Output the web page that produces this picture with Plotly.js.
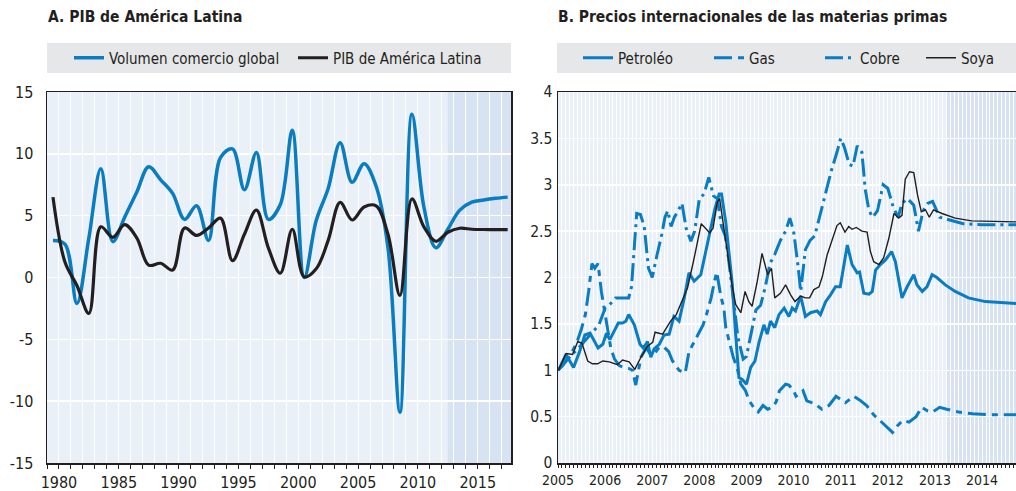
<!DOCTYPE html>
<html><head><meta charset="utf-8">
<script src="https://cdn.plot.ly/plotly-3.0.1.min.js"></script>
<style>html,body{margin:0;padding:0;background:#fff;}#chart{width:1016px;height:491px;}</style>
</head><body><div id="chart"></div>
<script>
// ---------- Panel A: annual growth (%) ----------
const years = [1980,1981,1982,1983,1984,1985,1986,1987,1988,1989,1990,1991,1992,1993,1994,1995,1996,1997,1998,1999,2000,2001,2002,2003,2004,2005,2006,2007,2008,2009,2010,2011,2012,2013,2014,2015,2016,2017,2018];
const tradeVolume = [3.0,2.7,-2.1,3.2,8.8,2.9,4.9,6.9,8.95,7.9,6.8,4.7,5.8,3.0,9.7,10.4,7.1,10.1,4.7,5.9,11.9,0.0,4.6,7.2,10.9,7.7,9.2,7.4,2.4,-10.9,13.2,5.7,2.4,3.9,5.45,6.1,6.27,6.4,6.5];
const gdpLatAm = [6.5,1.25,-0.65,-2.9,4.1,3.25,4.27,3.2,1.0,1.15,0.6,4.0,3.4,4.0,4.8,1.37,3.5,5.45,2.4,0.35,3.9,0.05,0.7,3.0,6.07,4.65,5.7,5.8,3.5,-1.45,6.35,4.1,2.93,3.66,3.98,3.9,3.88,3.87,3.87];
const yTicksA = [-15,-10,-5,0,5,10,15];
const yTickLabelsA = ['-15','-10','-5','0','5','10','15'];
const xTicksA = [1980,1985,1990,1995,2000,2005,2010,2015];

// ---------- Panel B: commodity prices index (2005 = 1) ----------
const petroleoT = [2005.01,2005.17,2005.33,2005.45,2005.57,2005.68,2005.85,2005.95,2006.03,2006.1,2006.28,2006.37,2006.44,2006.5,2006.62,2006.74,2006.81,2006.9,2006.97,2007.04,2007.15,2007.25,2007.36,2007.46,2007.57,2007.68,2007.78,2007.89,2008.03,2008.21,2008.33,2008.42,2008.47,2008.56,2008.63,2008.7,2008.77,2008.84,2008.91,2009.0,2009.09,2009.18,2009.27,2009.37,2009.44,2009.51,2009.6,2009.69,2009.8,2009.9,2009.97,2010.04,2010.15,2010.25,2010.36,2010.5,2010.57,2010.68,2010.78,2010.89,2010.99,2011.14,2011.24,2011.35,2011.4,2011.49,2011.6,2011.67,2011.74,2011.84,2011.95,2012.08,2012.16,2012.3,2012.41,2012.55,2012.62,2012.73,2012.83,2012.94,2013.04,2013.22,2013.43,2013.71,2014.07,2014.72];
const petroleoV = [1.0,1.17,1.03,1.19,1.38,1.4,1.24,1.28,1.4,1.33,1.51,1.51,1.53,1.6,1.49,1.28,1.24,1.31,1.14,1.23,1.28,1.38,1.39,1.58,1.53,1.78,2.05,1.96,2.03,2.46,2.74,2.9,2.9,2.6,2.28,1.92,1.39,0.92,0.9,0.85,1.03,1.1,1.31,1.49,1.39,1.53,1.46,1.6,1.67,1.58,1.67,1.64,1.8,1.58,1.62,1.64,1.6,1.74,1.81,1.9,1.9,2.35,2.14,2.05,2.06,1.83,1.82,1.85,2.08,2.14,2.19,2.28,2.17,1.78,1.9,2.03,1.92,1.85,1.9,2.03,2.0,1.92,1.85,1.78,1.74,1.72];

const gasT = [2005.0,2005.1,2005.25,2005.4,2005.5,2005.58,2005.65,2005.72,2005.78,2005.85,2005.92,2006.0,2006.05,2006.12,2006.2,2006.3,2006.4,2006.5,2006.58,2006.65,2006.76,2006.87,2006.97,2007.06,2007.15,2007.25,2007.35,2007.43,2007.57,2007.7,2007.78,2007.88,2007.98,2008.08,2008.15,2008.25,2008.32,2008.37,2008.45,2008.52,2008.56,2008.66,2008.72,2008.8,2008.88,2008.98,2009.05,2009.15,2009.25,2009.35,2009.45,2009.55,2009.63,2009.7,2009.83,2009.9,2010.0,2010.05,2010.2,2010.28,2010.45,2010.6,2010.75,2010.9,2011.0,2011.1,2011.28,2011.4,2011.55,2011.7,2011.85,2012.0,2012.1,2012.2,2012.32,2012.45,2012.6,2012.72,2012.85,2012.95,2013.1,2013.25,2013.5,2013.8,2014.2,2014.72];
const gasV = [1.0,1.05,1.15,1.3,1.45,1.6,1.85,2.15,2.1,2.15,1.85,1.6,1.45,1.24,1.12,1.05,1.03,1.02,1.0,0.84,1.14,1.24,1.17,1.19,1.25,1.25,1.2,1.1,1.0,0.97,1.2,1.3,1.39,1.49,1.6,1.78,1.96,2.06,1.81,1.67,1.46,1.24,1.14,1.03,0.85,0.78,0.68,0.6,0.55,0.62,0.58,0.6,0.66,0.78,0.85,0.84,0.78,0.72,0.78,0.67,0.64,0.58,0.62,0.72,0.68,0.65,0.72,0.68,0.62,0.52,0.45,0.38,0.33,0.4,0.46,0.44,0.5,0.6,0.56,0.55,0.6,0.58,0.55,0.53,0.52,0.52];

const cobreT = [2005.0,2005.2,2005.4,2005.6,2005.75,2005.87,2006.0,2006.1,2006.22,2006.5,2006.56,2006.62,2006.67,2006.75,2006.83,2006.92,2007.0,2007.1,2007.2,2007.27,2007.33,2007.4,2007.47,2007.55,2007.63,2007.72,2007.82,2007.9,2008.0,2008.1,2008.2,2008.3,2008.38,2008.47,2008.55,2008.62,2008.72,2008.82,2008.93,2009.0,2009.1,2009.2,2009.3,2009.4,2009.5,2009.6,2009.72,2009.83,2009.92,2010.0,2010.1,2010.15,2010.25,2010.35,2010.45,2010.55,2010.68,2010.8,2010.92,2011.0,2011.08,2011.18,2011.26,2011.35,2011.45,2011.52,2011.6,2011.68,2011.78,2011.9,2012.0,2012.12,2012.22,2012.3,2012.42,2012.55,2012.65,2012.75,2012.85,2012.95,2013.1,2013.3,2013.6,2014.0,2014.72];
const cobreV = [1.0,1.12,1.22,1.33,1.42,1.49,1.67,1.71,1.78,1.78,1.9,2.4,2.69,2.68,2.55,2.1,2.0,2.24,2.46,2.65,2.72,2.55,2.65,2.72,2.8,2.53,2.39,2.5,2.85,2.9,3.08,2.88,2.85,2.55,2.45,2.2,1.8,1.35,1.12,1.15,1.4,1.65,1.7,1.9,2.15,2.25,2.4,2.5,2.64,2.5,2.1,1.85,2.3,2.4,2.45,2.65,2.9,3.15,3.35,3.5,3.4,3.22,3.2,3.42,3.35,2.95,2.72,2.65,2.72,3.0,2.96,2.75,2.65,2.8,2.85,2.78,2.5,2.72,2.8,2.82,2.65,2.62,2.58,2.57,2.57];

const soyaT = [2005.01,2005.17,2005.31,2005.42,2005.51,2005.63,2005.73,2005.84,2005.95,2006.09,2006.26,2006.37,2006.51,2006.63,2006.76,2006.9,2007.01,2007.06,2007.22,2007.39,2007.51,2007.63,2007.75,2007.89,2008.04,2008.13,2008.22,2008.29,2008.38,2008.43,2008.5,2008.59,2008.7,2008.77,2008.88,2008.97,2009.05,2009.12,2009.23,2009.33,2009.45,2009.53,2009.6,2009.72,2009.83,2009.94,2010.03,2010.15,2010.25,2010.34,2010.43,2010.54,2010.61,2010.71,2010.82,2010.92,2010.99,2011.09,2011.17,2011.24,2011.33,2011.45,2011.56,2011.63,2011.7,2011.81,2011.91,2012.02,2012.13,2012.23,2012.3,2012.37,2012.46,2012.55,2012.63,2012.71,2012.8,2012.88,2012.97,2013.15,2013.43,2013.78,2014.72];
const soyaV = [1.0,1.18,1.17,1.31,1.29,1.1,1.07,1.07,1.1,1.09,1.06,1.11,1.09,1.01,1.14,1.26,1.3,1.41,1.39,1.53,1.6,1.74,1.89,2.21,2.58,2.53,2.48,2.53,2.81,2.85,2.6,2.28,1.9,1.71,1.62,1.85,1.74,1.69,1.96,2.26,2.03,2.1,1.78,1.83,1.92,1.81,1.74,1.8,1.78,1.78,1.87,1.9,2.01,2.24,2.42,2.56,2.59,2.49,2.55,2.52,2.54,2.5,2.49,2.28,2.17,2.14,2.21,2.42,2.69,2.64,2.67,3.06,3.14,3.13,2.89,2.71,2.73,2.65,2.73,2.69,2.64,2.61,2.6];
const yTicksB = [0,0.5,1,1.5,2,2.5,3,3.5,4];
const xTicksB = [2005,2006,2007,2008,2009,2010,2011,2012,2013,2014];

// ---------- styling ----------
const FONT = "'Liberation Sans Narrow','Arial Narrow','DejaVu Sans Condensed',sans-serif";
const BLUE = '#0a7cc1';
const BLACK = '#231f20';
const W = 1016, TOP = 92, BOT = 463;
const px = v => v / W;
const py = v => (BOT - v) / (BOT - TOP);

const traces = [
  {x: years.map(y => y - 0.5), y: tradeVolume, name: 'Volumen comercio global', type: 'scatter', mode: 'lines',
   line: {color: BLUE, width: 3.5, shape: 'spline', smoothing: 1}, xaxis: 'x', yaxis: 'y', legend: 'legend'},
  {x: years.map(y => y - 0.5), y: gdpLatAm, name: 'PIB de América Latina', type: 'scatter', mode: 'lines',
   line: {color: BLACK, width: 3.2, shape: 'spline', smoothing: 1}, xaxis: 'x', yaxis: 'y', legend: 'legend2'},
  {x: petroleoT, y: petroleoV, name: 'Petroléo', type: 'scatter', mode: 'lines',
   line: {color: BLUE, width: 3}, xaxis: 'x2', yaxis: 'y2', legend: 'legend3'},
  {x: gasT, y: gasV, name: 'Gas', type: 'scatter', mode: 'lines',
   line: {color: BLUE, width: 3, dash: '18px,6px,6px,6px'}, xaxis: 'x2', yaxis: 'y2', legend: 'legend4'},
  {x: cobreT, y: cobreV, name: 'Cobre', type: 'scatter', mode: 'lines',
   line: {color: BLUE, width: 3, dash: '18px,5px,3px,5px'}, xaxis: 'x2', yaxis: 'y2', legend: 'legend5'},
  {x: soyaT, y: soyaV, name: 'Soya', type: 'scatter', mode: 'lines',
   line: {color: BLACK, width: 1.4}, xaxis: 'x2', yaxis: 'y2', legend: 'legend6'}
];

function leg(lineStartPx) {
  return {x: px(lineStartPx), xanchor: 'left', y: py(58), yanchor: 'middle', orientation: 'h',
    bgcolor: 'rgba(0,0,0,0)', borderwidth: 0, font: {family: FONT, size: 15, color: BLACK}};
}

const axisCommon = {showline: true, linecolor: BLACK, linewidth: 1.5, mirror: true, zeroline: false,
  gridcolor: '#ffffff', gridwidth: 1, tickfont: {family: FONT, size: 16, color: BLACK}};

const layout = {
  width: W, height: 491, paper_bgcolor: '#ffffff', plot_bgcolor: '#e9f0f8',
  margin: {l: 0, r: 0, t: TOP, b: 491 - BOT, pad: 0},
  showlegend: true, hovermode: false,
  font: {family: FONT, color: BLACK},
  xaxis: Object.assign({}, axisCommon, {domain: [px(47), px(511)], range: [1979, 2017.78], tickmode: 'array', tickvals: xTicksA,
    ticks: 'outside', ticklen: 4, tickcolor: BLACK, ticklabelstandoff: 0,
    minor: {dtick: 1, tick0: 1980, showgrid: true, gridcolor: '#ffffff', gridwidth: 1, ticks: 'outside', ticklen: 4, tickcolor: BLACK}}),
  yaxis: Object.assign({}, axisCommon, {domain: [0, 1], range: [-15, 15], tickmode: 'array', tickvals: yTicksA, ticktext: yTickLabelsA,
    ticks: '', ticklabelstandoff: 9, gridwidth: 1.5}),
  xaxis2: Object.assign({}, axisCommon, {domain: [px(558), 1], range: [2005, 2014.72], tickmode: 'array', tickvals: xTicksB,
    ticks: 'outside', ticklen: 3, tickcolor: BLACK, ticklabelstandoff: 1, anchor: 'y2', tickfont: {family: FONT, size: 14, color: BLACK},
    minor: {dtick: 1/12, tick0: 2005, showgrid: true, gridcolor: '#ffffff', gridwidth: 1, ticks: 'outside', ticklen: 3, tickcolor: BLACK}}),
  yaxis2: Object.assign({}, axisCommon, {domain: [0, 1], range: [0, 4], tickmode: 'array', tickvals: yTicksB, anchor: 'x2',
    ticks: '', ticklabelstandoff: 1, gridwidth: 1.5, tickfont: {family: FONT, size: 15.5, color: BLACK}}),
  shapes: [
    {type: 'rect', xref: 'x', yref: 'y domain', x0: 2012.5, x1: 2017.78, y0: 0, y1: 1, fillcolor: '#d7e3f2', line: {width: 0}, layer: 'below'},
    {type: 'rect', xref: 'x2', yref: 'y2 domain', x0: 2013.25, x1: 2014.72, y0: 0, y1: 1, fillcolor: '#d7e3f2', line: {width: 0}, layer: 'below'},
    {type: 'rect', xref: 'paper', yref: 'paper', x0: px(47), x1: px(511), y0: py(73), y1: py(43), fillcolor: '#e6e7e8', line: {width: 0}, layer: 'below'},
    {type: 'rect', xref: 'paper', yref: 'paper', x0: px(557), x1: 1, y0: py(73), y1: py(43), fillcolor: '#e6e7e8', line: {width: 0}, layer: 'below'}
  ],
  annotations: [
    {text: '<b>A. PIB de América Latina</b>', xref: 'paper', yref: 'paper', x: px(46), y: py(17), xanchor: 'left', yanchor: 'middle',
     showarrow: false, font: {family: FONT, size: 15.5, color: BLACK}},
    {text: '<b>B. Precios internacionales de las materias primas</b>', xref: 'paper', yref: 'paper', x: px(556), y: py(17), xanchor: 'left', yanchor: 'middle',
     showarrow: false, font: {family: FONT, size: 15.5, color: BLACK}}
  ],
  legend: leg(69), legend2: leg(293), legend3: leg(578), legend4: leg(709), legend5: leg(820), legend6: leg(921)
};

Plotly.newPlot('chart', traces, layout, {staticPlot: true, displayModeBar: false});
</script></body></html>
